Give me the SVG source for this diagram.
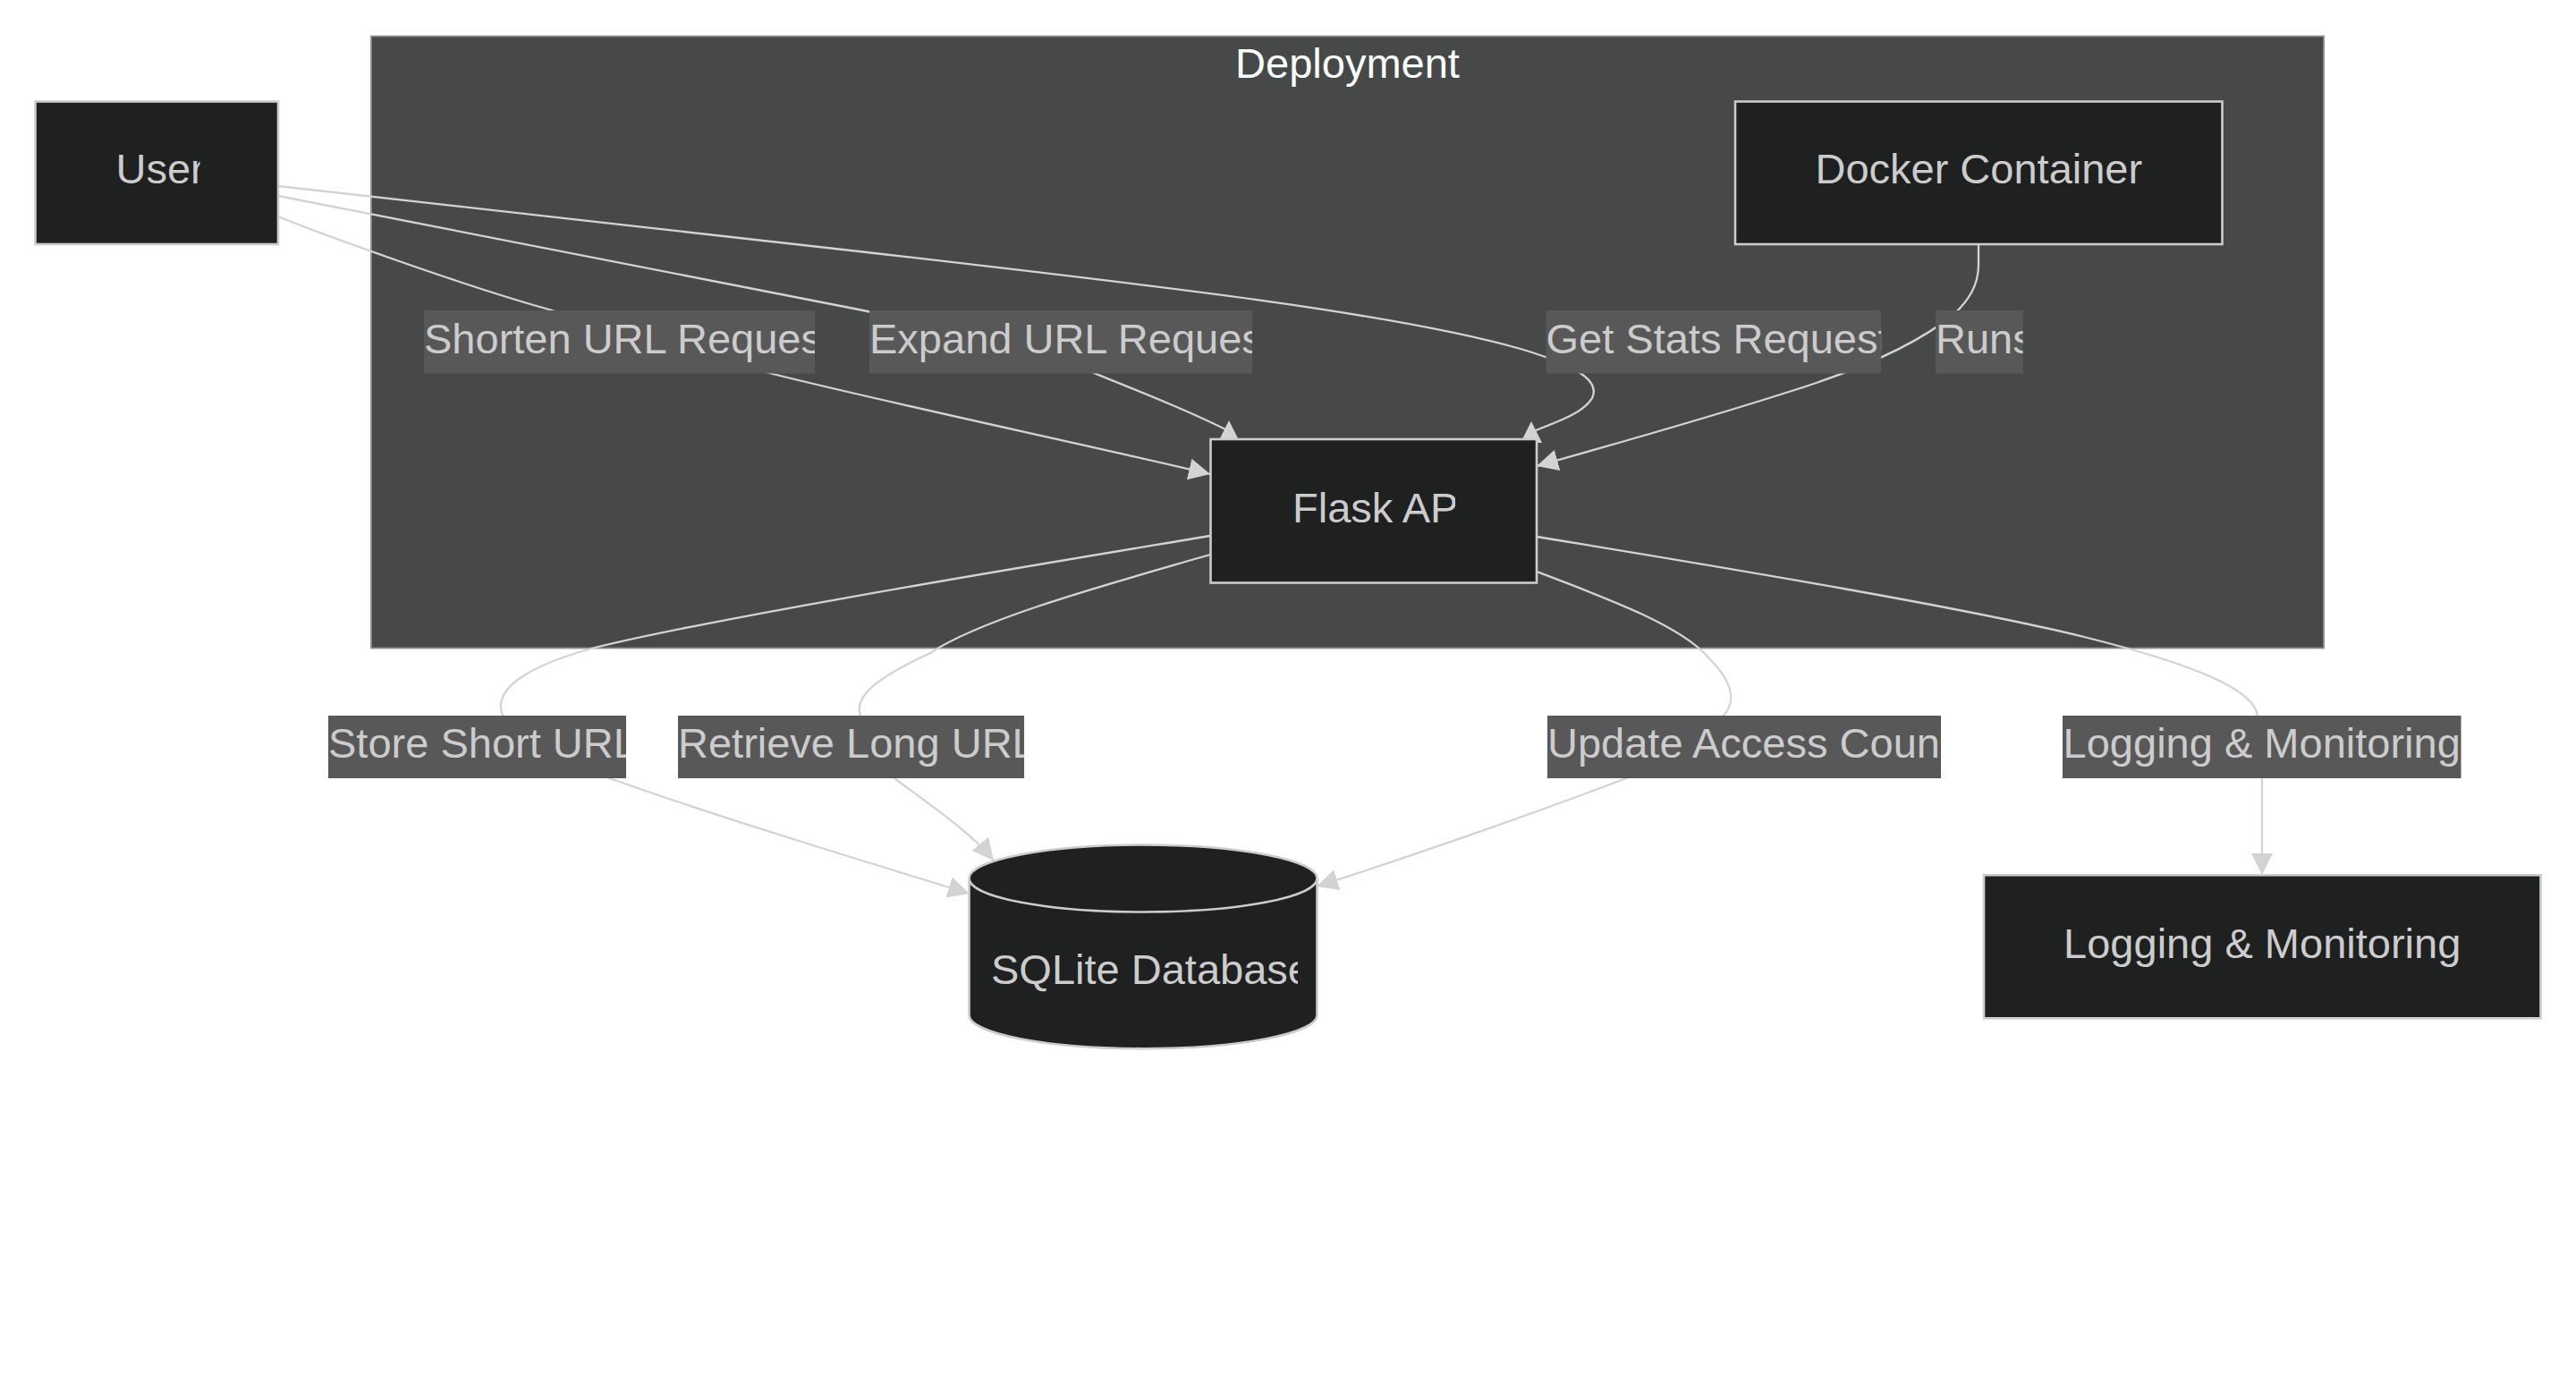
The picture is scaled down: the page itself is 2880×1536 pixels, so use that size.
<svg xmlns="http://www.w3.org/2000/svg" width="2880" height="1536" viewBox="0 0 2880 1536">
<style>
.bg{fill:#ffffff}
.cluster{fill:#474949;stroke:#8c8c8c;stroke-width:1.8}
.ctitle{fill:#f9fffe;font-family:"Liberation Sans",Arial,sans-serif;font-size:47px;text-anchor:middle}
.node{fill:#1f2020;stroke:#cccccc;stroke-width:2.6}
.ntext{fill:#cccccc;font-family:"Liberation Sans",Arial,sans-serif;font-size:47px}
.mid{text-anchor:middle}
.edge{fill:none;stroke:#d3d3d3;stroke-width:2.3}
.lbg{fill:#585858}
.ltext{fill:#cccccc;font-family:"Liberation Sans",Arial,sans-serif;font-size:47px}
</style>
<defs>
<marker id="arr" viewBox="0 0 10 10" refX="10" refY="5" markerUnits="userSpaceOnUse" markerWidth="24" markerHeight="24" orient="auto"><path d="M0,0 L10,5 L0,10 z" fill="#d3d3d3"/></marker>
<marker id="arrUp" viewBox="0 0 10 10" refX="5" refY="5" markerUnits="userSpaceOnUse" markerWidth="24" markerHeight="24" orient="270"><path d="M0,0 L10,5 L0,10 z" fill="#d3d3d3"/></marker>
<clipPath id="cUser"><rect x="126" y="140" width="97.5" height="110"/></clipPath>
<clipPath id="cFlask"><rect x="1440" y="520" width="187" height="110"/></clipPath>
<clipPath id="cDb"><rect x="1100" y="1040" width="351" height="90"/></clipPath>
<clipPath id="cL1"><rect x="474" y="347" width="437" height="70.5"/></clipPath>
<clipPath id="cL2"><rect x="972" y="347" width="428" height="70.5"/></clipPath>
<clipPath id="cL3"><rect x="1728.5" y="347" width="374.7" height="70.5"/></clipPath>
<clipPath id="cL4"><rect x="2164" y="347" width="97.6" height="70.5"/></clipPath>
<clipPath id="cL5"><rect x="367" y="800" width="333" height="70"/></clipPath>
<clipPath id="cL6"><rect x="758" y="800" width="387" height="70"/></clipPath>
<clipPath id="cL7"><rect x="1730" y="800" width="440" height="70"/></clipPath>
</defs>
<rect class="bg" x="0" y="0" width="2880" height="1536"/>

<g id="cluster-deployment">
<rect class="cluster" x="415" y="40.5" width="2183" height="684"/>
<text class="ctitle" x="1506.5" y="86.7">Deployment</text>
</g>

<g id="connectors">
<path id="e-shorten" class="edge" marker-end="url(#arr)" d="M311,242 C360,262 520,320 614,346 C700,372 780,396 864,418 C1000,452 1200,494 1353,530"/>
<path id="e-expand" class="edge" marker-end="url(#arrUp)" d="M311,219 L960,346 C1080,370 1170,395 1223,417 C1280,440 1335,462 1374,482"/>
<path id="e-stats" class="edge" marker-end="url(#arrUp)" d="M311,208 L960,281 C1300,320 1560,350 1700,390 C1760,408 1790,425 1780,445 C1770,462 1740,472 1712,483"/>
<path id="e-runs" class="edge" marker-end="url(#arr)" d="M2212,273 L2212,296 C2212,320 2200,336 2186,350 C2150,380 2090,410 2000,438 C1900,470 1800,498 1718,521"/>
<path id="e-store" class="edge" marker-end="url(#arr)" d="M1353,599 C1180,628 800,690 661,725 C590,745 550,770 562,800 C575,835 640,855 690,873 C800,912 950,958 1084,999"/>
<path id="e-retrieve" class="edge" marker-end="url(#arr)" d="M1353,620 C1250,650 1100,690 1040,730 C975,760 955,780 962,800 C965,830 985,855 1000,870 C1040,900 1085,930 1111,962"/>
<path id="e-update" class="edge" marker-end="url(#arr)" d="M1718,639 C1800,670 1880,700 1910,735 C1940,765 1940,785 1927,800 C1900,830 1860,850 1818,870 C1740,900 1600,950 1472,991"/>
<path id="e-logging" class="edge" marker-end="url(#arr)" d="M1718,600 C1950,638 2200,680 2330,712 C2450,742 2520,770 2524,800 C2526,820 2529,840 2529,870 L2529,978"/>

<g id="edge-labels">
<rect class="lbg" x="474" y="347" width="437" height="70.5"/>
<text class="ltext" x="474" y="394.6" clip-path="url(#cL1)">Shorten URL Reques</text>
<rect class="lbg" x="972" y="347" width="428" height="70.5"/>
<text class="ltext" x="972" y="394.6" clip-path="url(#cL2)">Expand URL Reques</text>
<rect class="lbg" x="1728.5" y="347" width="374.7" height="70.5"/>
<text class="ltext" x="1728.5" y="394.6" clip-path="url(#cL3)">Get Stats Request</text>
<rect class="lbg" x="2164" y="347" width="97.6" height="70.5"/>
<text class="ltext" x="2164" y="394.6" clip-path="url(#cL4)">Runs</text>
<rect class="lbg" x="367" y="800" width="333" height="70"/>
<text class="ltext" x="367" y="847" clip-path="url(#cL5)">Store Short URL</text>
<rect class="lbg" x="758" y="800" width="387" height="70"/>
<text class="ltext" x="758" y="847" clip-path="url(#cL6)">Retrieve Long URL</text>
<rect class="lbg" x="1730" y="800" width="440" height="70"/>
<text class="ltext" x="1730" y="847" clip-path="url(#cL7)">Update Access Coun</text>
<rect class="lbg" x="2306" y="800" width="445.5" height="70"/>
<text class="ltext mid" x="2528.7" y="847">Logging &amp; Monitoring</text>
</g>
</g>

<g id="node-user">
<rect class="node" x="39.5" y="113.5" width="271.5" height="159.5"/>
<text class="ntext" x="129.5" y="205" clip-path="url(#cUser)">User</text>
</g>
<g id="node-docker">
<rect class="node" x="1940" y="113.5" width="544.5" height="159.5"/>
<text class="ntext mid" x="2212.3" y="205">Docker Container</text>
</g>
<g id="node-flask">
<rect class="node" x="1353.5" y="491" width="364.5" height="160.5"/>
<text class="ntext" x="1445" y="584" clip-path="url(#cFlask)">Flask AP</text>
</g>
<g id="node-db">
<path class="node" d="M1083.5,982 a194.5,37.5 0 0,0 389,0 a194.5,37.5 0 0,0 -389,0 l0,152.7 a194.5,37.5 0 0,0 389,0 l0,-152.7"/>
<text class="ntext" x="1108" y="1100" clip-path="url(#cDb)">SQLite Database</text>
</g>
<g id="node-logging">
<rect class="node" x="2218" y="978.3" width="622.5" height="160"/>
<text class="ntext mid" x="2529.2" y="1070.5">Logging &amp; Monitoring</text>
</g>
</svg>
